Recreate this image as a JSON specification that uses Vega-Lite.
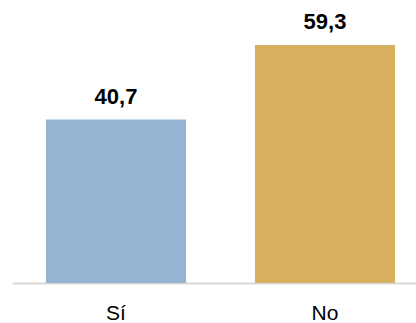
{
  "$schema": "https://vega.github.io/schema/vega-lite/v6.json",
  "width": 404,
  "height": 281,
  "autosize": {"type": "none"},
  "padding": {"left": 12, "top": 2, "right": 0, "bottom": 40},
  "background": "white",
  "config": {"view": {"stroke": null}, "font": "Liberation Sans"},
  "data": {"values": [
    {"cat": "Sí", "value": 40.7, "label": "40,7"},
    {"cat": "No", "value": 59.3, "label": "59,3"}
  ]},
  "encoding": {
    "x": {"field": "cat", "type": "nominal", "sort": ["Sí", "No"],
      "scale": {"paddingInner": 0.33, "paddingOuter": 0.1316, "align": 0.618},
      "axis": {"title": null, "labelAngle": 0, "ticks": false, "domainColor": "#d9d9d9", "domainWidth": 2,
        "labelFontSize": 21, "labelColor": "#000000", "labelFont": "Liberation Sans", "labelPadding": 36, "labelBaseline": "alphabetic"}},
    "y": {"field": "value", "type": "quantitative", "scale": {"domain": [0, 70], "nice": false},
      "axis": null}
  },
  "layer": [
    {"mark": {"type": "bar"},
      "encoding": {"color": {"field": "cat", "type": "nominal", "sort": ["Sí", "No"],
        "scale": {"domain": ["Sí", "No"], "range": ["#94b5d2", "#d7b15d"]}, "legend": null}}},
    {"mark": {"type": "text", "dy": -16, "baseline": "alphabetic", "fontSize": 22, "fontWeight": "bold", "color": "#000000", "font": "Liberation Sans"},
      "encoding": {"text": {"field": "label"}}}
  ]
}
